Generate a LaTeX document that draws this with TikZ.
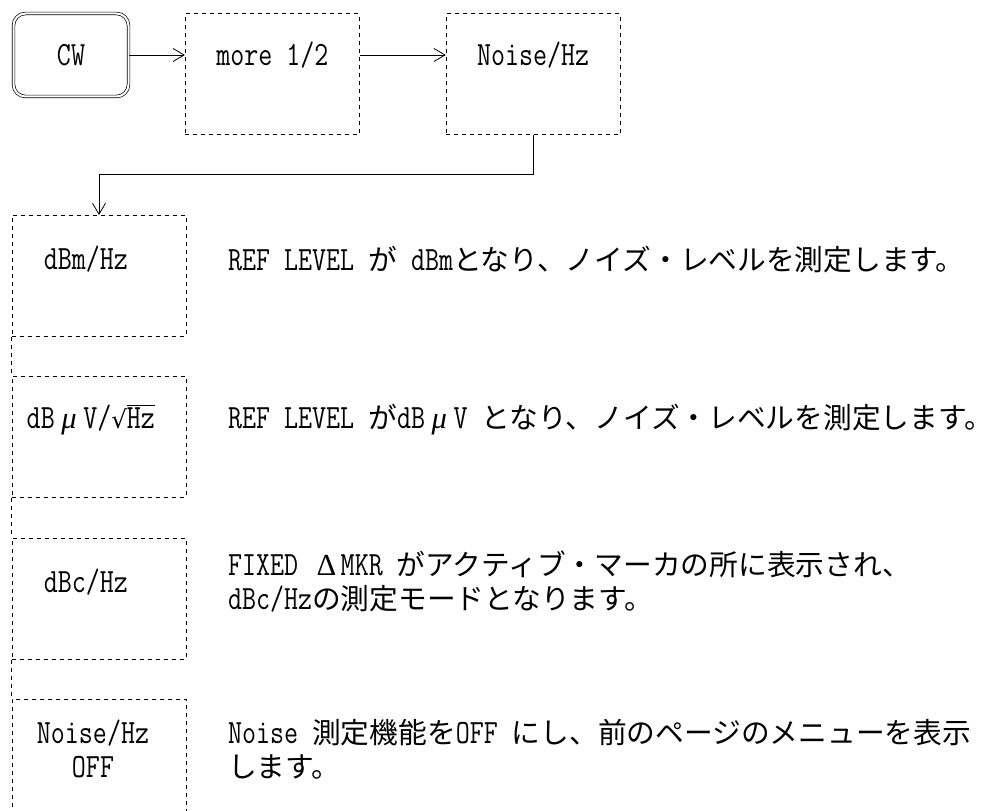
\documentclass[tikz,border=0pt]{standalone}
\usepackage{fontspec}
\setmainfont{Latin Modern Mono}[FakeStretch=0.8]
\newfontfamily\jpfont{Noto Sans CJK JP}[Scale=0.845]
\newfontfamily\grkfont{Liberation Serif}[Scale=0.9]
\newfontfamily\symfont{DejaVu Sans}[Scale=0.72]
\usetikzlibrary{arrows.meta,positioning,calc}
\newcommand\J[1]{{\jpfont #1}}
\newcommand\wide[1]{\makebox[28.5pt]{#1}}
\newcommand\ovl[1]{\vbox{\hrule height 0.9pt\kern1.5pt\hbox{#1}}}

\begin{document}
\begin{tikzpicture}[
		x=1pt, y=1pt,
		every node/.style={font=\fontsize{34}{34}\selectfont, inner sep=0pt},
		hardkey/.style={draw, double, double distance=2pt, line width=0.7pt, rounded corners=12pt, minimum width=115pt, minimum height=83pt},
		menu/.style={draw, dash pattern=on 4pt off 4pt, line width=0.9pt, minimum width=174pt, minimum height=121pt},
		note/.style={anchor=west, align=left},
		barrow/.style={-{Straight Barb[length=11pt, width=13pt]}, line width=0.8pt}
	]
		\useasboundingbox (0,0) rectangle (997,811);

		\node[hardkey] (cw) at (71,756) {CW};
		\node[menu, right=56pt of cw.north east, anchor=north west] (more) {};
		\node[menu, right=86pt of more] (noise) {};
		\node (morelbl) at (more |- cw) {more 1/2};
		\node (noiselbl) at (noise |- cw) {Noise/Hz};

		\draw[barrow] (cw.east) -- (cw.east -| more.west);
		\draw[barrow] (cw.east -| more.east) -- (cw.east -| noise.west);

		\node[menu] (dbm) at (99,535) {};
		\node[menu, below=39pt of dbm] (dbuv) {};
		\node[menu, below=40pt of dbuv] (dbc) {};
		\node[menu, below=39pt of dbc, minimum height=140pt] (off) {};
		\foreach \a/\b in {dbm/dbuv, dbuv/dbc, dbc/off}
			\draw[dash pattern=on 4pt off 4pt, line width=0.9pt] (\a.south west) -- (\b.north west);

		\coordinate (bend) at ($(noise.south)+(0,-39)$);
		\draw[barrow] (noise.south) -- (bend) -| (dbm.north);

		\node[anchor=west] (dbmlbl) at ($(dbm.north west)+(32,-44)$) {dBm/Hz};
		\node[anchor=west] (dbuvlbl) at ($(dbuv.north west)+(15,-44)$)
			{dB\wide{\grkfont\itshape μ}V/{\symfont √}\ovl{Hz}};
		\node[anchor=west] (dbclbl) at ($(dbc.north west)+(32,-44)$) {dBc/Hz};
		\node[align=center] (offlbl) at ($(off.north)+(-6,-50)$) {Noise/Hz\\OFF};

		\coordinate (notecol) at (228,0);
		\node[note] (dbmnote) at (dbmlbl -| notecol)
			{REF LEVEL \J{が} dBm\J{となり、ノイズ・レベルを測定します。}};
		\node[note] (dbuvnote) at (dbuvlbl -| notecol)
			{REF LEVEL \J{が}dB\wide{\grkfont\itshape μ}V \J{となり、ノイズ・レベルを測定します。}};
		\node[note] (dbcnote) at (dbclbl -| notecol)
			{FIXED \wide{\grkfont Δ}MKR \J{がアクティブ・マーカの所に表示され、}\\dBc/Hz\J{の測定モードとなります。}};
		\node[note] (offnote) at (offlbl -| notecol)
			{Noise \J{測定機能を}OFF \J{にし、前のページのメニューを表示}\\\J{します。}};
	\end{tikzpicture}
\end{document}
